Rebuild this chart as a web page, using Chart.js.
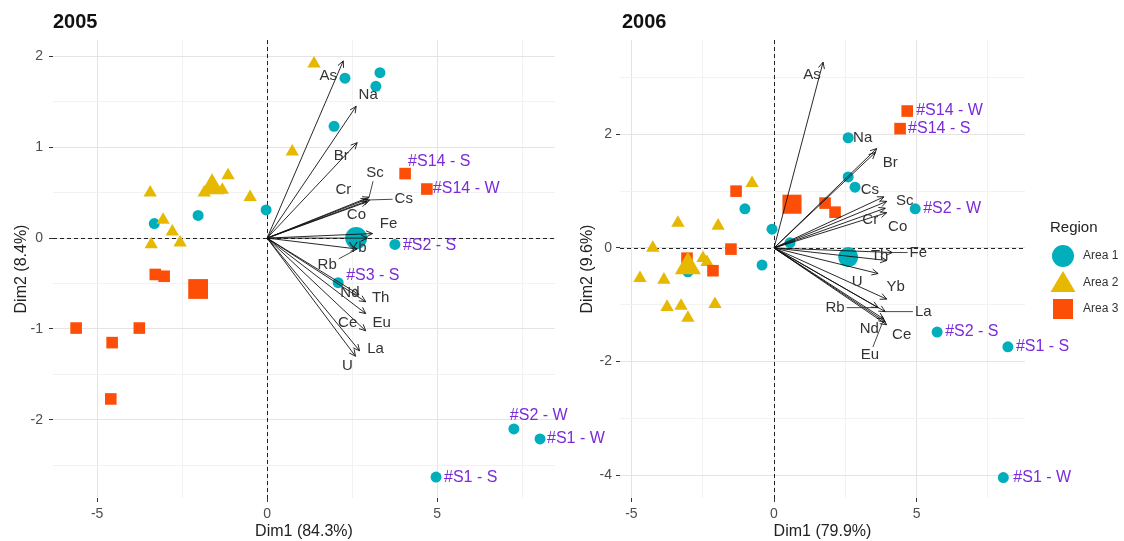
<!DOCTYPE html>
<html>
<head>
<meta charset="utf-8">
<script src="https://cdn.jsdelivr.net/npm/chart.js@4.4.1/dist/chart.umd.min.js"></script>
<style>
  html, body { margin: 0; padding: 0; background: #ffffff; }
  #wrap { position: relative; width: 1124px; height: 541px; overflow: hidden; }
  .panel { position: absolute; top: 0; height: 541px; }
  #p2005 { left: 0; width: 620px; }
  #p2006 { left: 560px; width: 564px; }
</style>
</head>
<body>
<div id="wrap">
  <div class="panel" id="p2005"><canvas id="c2005" width="620" height="541"></canvas></div>
  <div class="panel" id="p2006"><canvas id="c2006" width="564" height="541"></canvas></div>
</div>
<script>
// ---------------- data ----------------
const regions = ['Area 1', 'Area 2', 'Area 3'];
const regionColors = ['#00AFBB', '#E7B800', '#FC4E07'];

const panelTitles = ['2005', '2006'];
const dim1Titles = ['Dim1 (84.3%)', 'Dim1 (79.9%)'];
const dim2Titles = ['Dim2 (8.4%)', 'Dim2 (9.6%)'];

// tick labels shown on each axis
const dim1Ticks2005 = [-5, 0, 5];
const dim2Ticks2005 = [-2, -1, 0, 1, 2];
const dim1Ticks2006 = [-5, 0, 5];
const dim2Ticks2006 = [-4, -2, 0, 2];

// individuals 2005: [Dim1, Dim2, site]
const area1_2005 = [
  [2.29, 1.76, ''], [3.32, 1.82, ''], [3.20, 1.67, ''], [1.97, 1.23, ''],
  [-3.32, 0.16, ''], [-2.03, 0.25, ''], [-0.03, 0.31, ''],
  [3.76, -0.07, '#S2 - S'], [2.09, -0.49, '#S3 - S'],
  [7.26, -2.10, '#S2 - W'], [8.03, -2.21, '#S1 - W'], [4.97, -2.63, '#S1 - S']
];
const area2_2005 = [
  [1.38, 1.92, ''], [0.74, 0.95, ''], [-3.44, 0.50, ''], [-1.15, 0.69, ''],
  [-0.50, 0.45, ''], [-1.32, 0.53, ''], [-1.85, 0.50, ''], [-3.06, 0.20, ''],
  [-2.79, 0.07, ''], [-2.56, -0.05, ''], [-3.41, -0.07, '']
];
const area3_2005 = [
  [4.06, 0.71, '#S14 - S'], [4.70, 0.54, '#S14 - W'],
  [-3.29, -0.40, ''], [-3.03, -0.42, ''], [-5.62, -0.99, ''], [-3.76, -0.99, ''],
  [-4.56, -1.15, ''], [-4.60, -1.77, '']
];
// group means (Area 1, Area 2, Area 3)
const centroids2005 = [[2.62, 0.00], [-1.62, 0.56], [-2.03, -0.56]];

// variables 2005
const vars2005 = ['As', 'Na', 'Br', 'Sc', 'Cr', 'Cs', 'Co', 'Fe', 'Yb', 'Rb', 'Th', 'Nd', 'Eu', 'Ce', 'La', 'U'];
const varDim1_2005 = [2.24, 2.62, 2.65, 3.00, 2.95, 3.02, 2.95, 3.10, 2.95, 2.65, 2.90, 2.70, 2.90, 2.90, 2.72, 2.60];
const varDim2_2005 = [1.95, 1.45, 1.05, 0.45, 0.43, 0.42, 0.40, 0.05, 0.00, -0.12, -0.70, -0.62, -0.83, -1.02, -1.24, -1.30];

// individuals 2006: [Dim1, Dim2, site]
const area1_2006 = [
  [2.60, 1.94, ''], [2.60, 1.25, ''], [2.84, 1.07, ''], [4.95, 0.69, '#S2 - W'],
  [-1.02, 0.69, ''], [-0.07, 0.33, ''], [0.56, 0.09, ''], [-0.42, -0.30, ''],
  [-3.02, -0.42, ''], [5.72, -1.48, '#S2 - S'], [8.20, -1.74, '#S1 - S'], [8.04, -4.04, '#S1 - W']
];
const area2_2006 = [
  [-0.77, 1.14, ''], [-3.37, 0.44, ''], [-1.96, 0.39, ''], [-4.25, 0.00, ''],
  [-2.49, -0.18, ''], [-2.35, -0.25, ''], [-4.70, -0.53, ''], [-3.86, -0.56, ''],
  [-3.75, -1.04, ''], [-3.26, -1.02, ''], [-3.02, -1.23, ''], [-2.07, -0.99, '']
];
const area3_2006 = [
  [4.67, 2.41, '#S14 - W'], [4.42, 2.10, '#S14 - S'], [1.79, 0.79, ''], [2.14, 0.63, ''],
  [-1.33, 1.00, ''], [-1.51, -0.02, ''], [-3.05, -0.18, ''], [-2.14, -0.40, '']
];
const centroids2006 = [[2.60, -0.16], [-3.02, -0.33], [0.63, 0.77]];

// variables 2006
const vars2006 = ['As', 'Na', 'Br', 'Cs', 'Sc', 'Cr', 'Co', 'Fe', 'Th', 'U', 'Yb', 'La', 'Rb', 'Nd', 'Ce', 'Eu'];
const varDim1_2006 = [1.72, 3.60, 3.55, 3.85, 3.95, 3.90, 3.95, 4.15, 3.95, 3.65, 3.95, 3.90, 3.65, 3.90, 3.95, 3.85];
const varDim2_2006 = [3.27, 1.75, 1.68, 0.90, 0.82, 0.70, 0.62, -0.08, -0.22, -0.45, -0.90, -1.12, -1.05, -1.30, -1.35, -1.25];

// ---------------- layout of repelled labels (pixel offsets from arrow tip) ----------------
const varLabelLayout2005 = {
  As: [-15, 15], Na: [12, -11], Br: [-16, 13], Sc: [6, -24, true], Cr: [-24, -9],
  Cs: [34, -1, true], Co: [-11, 13], Fe: [16, -10], Yb: [-10, 10], Rb: [-30, 16, true],
  Th: [15, -4], Nd: [-9, -2], Eu: [16, 9], Ce: [-18, -8], La: [16, -2], U: [-8, 10]
};
const varLabelLayout2006 = {
  As: [-11, 13], Na: [-14, -11], Br: [15, 10], Cs: [-14, -7], Sc: [18, -1], Cr: [-15, 12],
  Co: [11, 14], Fe: [26, 0, true], Th: [-7, -5], U: [-21, 8], Yb: [9, -12], La: [38, 0, true],
  Rb: [-43, 0, true], Nd: [-16, 7], Ce: [15, 10], Eu: [-14, 36, true]
};
// site label offsets (left edge of text, from point centre)
const siteLabelLayout2005 = {
  '#S14 - S': [3, -12], '#S14 - W': [6, 0], '#S2 - S': [8, 1], '#S3 - S': [8, -7],
  '#S2 - W': [-4, -13], '#S1 - W': [7, 0], '#S1 - S': [8, 0]
};
const siteLabelLayout2006 = {
  '#S14 - W': [9, 0], '#S14 - S': [8, 0], '#S2 - W': [8, 0], '#S2 - S': [8, 0],
  '#S1 - S': [8, 0], '#S1 - W': [10, 0]
};

const FONT = '"Liberation Sans", Arial, Helvetica, sans-serif';
Chart.defaults.font.family = FONT;

function isNear(v, list) { return list.some(t => Math.abs(v - t) < 1e-6); }

function makeScales(opt) {
  const gridColor = (ticksList) => (c) => {
    const v = c.tick ? c.tick.value : 0;
    return isNear(v, ticksList) ? '#E4E4E4' : '#F2F2F2';
  };
  const tickColor = (ticksList) => (c) => {
    const v = c.tick ? c.tick.value : 0;
    return isNear(v, ticksList) ? '#333333' : 'rgba(0,0,0,0)';
  };
  const lbl = (ticksList) => function (value) {
    return isNear(value, ticksList) ? String(value) : '';
  };
  return {
    x: {
      type: 'linear', min: opt.xmin, max: opt.xmax,
      border: { display: false },
      grid: { color: gridColor(opt.xTicks), tickColor: tickColor(opt.xTicks), tickLength: 4, lineWidth: 1 },
      ticks: { stepSize: opt.xStep, includeBounds: false, autoSkip: false, maxRotation: 0,
               padding: 4, color: '#4D4D4D', font: { size: 14 }, callback: lbl(opt.xTicks) },
      title: { display: true, text: opt.xTitle, color: '#222', font: { size: 16 }, padding: { top: 0, bottom: 0 } },
      afterFit: (s) => { s.height = 43; }
    },
    y: {
      type: 'linear', min: opt.ymin, max: opt.ymax,
      border: { display: false },
      grid: { color: gridColor(opt.yTicks), tickColor: tickColor(opt.yTicks), tickLength: 4, lineWidth: 1 },
      ticks: { stepSize: opt.yStep, includeBounds: false, autoSkip: false,
               padding: opt.yPad, color: '#4D4D4D', font: { size: 14 }, callback: lbl(opt.yTicks) },
      title: { display: true, text: opt.yTitle, color: '#222', font: { size: 16 }, padding: { top: opt.yTitlePad, bottom: 0 } },
      afterFit: (s) => { s.width = opt.yWidth; }
    }
  };
}

function toXY(arr) { return arr.map(p => ({ x: p[0], y: p[1] })); }

function makeDatasets(a1, a2, a3, cents, big) {
  const base = { showLine: false, pointBorderWidth: 0, pointHoverRadius: 0 };
  return [
    Object.assign({ label: regions[0], data: toXY(a1), backgroundColor: regionColors[0],
      pointStyle: 'circle', pointRadius: 5.5, order: 4 }, base),
    Object.assign({ label: regions[1], data: toXY(a2), backgroundColor: regionColors[1],
      pointStyle: 'triangle', pointRadius: 7.7, order: 3 }, base),
    Object.assign({ label: regions[2], data: toXY(a3), backgroundColor: regionColors[2],
      pointStyle: 'rect', pointRadius: 8.2, order: 2 }, base),
    Object.assign({ label: 'mean', data: toXY(cents), backgroundColor: regionColors,
      pointStyle: ['circle', 'triangle', 'rect'], pointRadius: big, order: 1 }, base)
  ];
}

// dashed reference lines through the origin
const zeroLines = {
  id: 'zeroLines',
  beforeDatasetsDraw(chart) {
    const { ctx, chartArea: a, scales: { x, y } } = chart;
    const x0 = Math.round(x.getPixelForValue(0)) + 0.5;
    const y0 = Math.round(y.getPixelForValue(0)) + 0.5;
    ctx.save();
    ctx.strokeStyle = '#222';
    ctx.lineWidth = 1;
    ctx.setLineDash([4, 3]);
    ctx.beginPath();
    ctx.moveTo(x0, a.top); ctx.lineTo(x0, a.bottom);
    ctx.moveTo(a.left, y0); ctx.lineTo(a.right, y0);
    ctx.stroke();
    ctx.restore();
  }
};

function panelTitle(text, x) {
  return {
    id: 'panelTitle',
    afterDraw(chart) {
      const ctx = chart.ctx;
      ctx.save();
      ctx.font = 'bold 20px ' + FONT;
      ctx.fillStyle = '#111';
      ctx.textAlign = 'left';
      ctx.textBaseline = 'middle';
      ctx.fillText(text, x, 22);
      ctx.restore();
    }
  };
}

function variableArrows(names, d1, d2, layout) {
  return {
    id: 'variableArrows',
    afterDatasetsDraw(chart) {
      const { ctx, scales: { x, y } } = chart;
      const ox = x.getPixelForValue(0), oy = y.getPixelForValue(0);
      ctx.save();
      ctx.strokeStyle = '#111';
      ctx.lineWidth = 0.9;
      names.forEach((n, i) => {
        const tx = x.getPixelForValue(d1[i]), ty = y.getPixelForValue(d2[i]);
        const a = Math.atan2(ty - oy, tx - ox), h = 7, s = Math.PI / 7;
        ctx.beginPath();
        ctx.moveTo(ox, oy); ctx.lineTo(tx, ty);
        ctx.moveTo(tx - h * Math.cos(a - s), ty - h * Math.sin(a - s));
        ctx.lineTo(tx, ty);
        ctx.lineTo(tx - h * Math.cos(a + s), ty - h * Math.sin(a + s));
        ctx.stroke();
      });
      ctx.font = '15px ' + FONT;
      ctx.textAlign = 'center';
      ctx.textBaseline = 'middle';
      names.forEach((n, i) => {
        const tx = x.getPixelForValue(d1[i]), ty = y.getPixelForValue(d2[i]);
        const off = layout[n] || [8, 0];
        const cx = tx + off[0], cy = ty + off[1];
        if (off[2]) {
          const w = ctx.measureText(n).width / 2 + 2, hh = 8;
          const dx = tx - cx, dy = ty - cy;
          const t = Math.min(dx !== 0 ? w / Math.abs(dx) : Infinity, dy !== 0 ? hh / Math.abs(dy) : Infinity);
          if (t < 1) {
            ctx.strokeStyle = '#333';
            ctx.lineWidth = 0.9;
            ctx.beginPath();
            ctx.moveTo(cx + dx * t, cy + dy * t);
            ctx.lineTo(tx, ty);
            ctx.stroke();
          }
        }
        ctx.fillStyle = '#333';
        ctx.fillText(n, cx, cy);
      });
      ctx.restore();
    }
  };
}

function siteLabels(groups, layout) {
  return {
    id: 'siteLabels',
    afterDatasetsDraw(chart) {
      const { ctx, scales: { x, y } } = chart;
      ctx.save();
      ctx.font = '16px ' + FONT;
      ctx.fillStyle = '#7B2BD9';
      ctx.textAlign = 'left';
      ctx.textBaseline = 'middle';
      groups.forEach(g => g.forEach(p => {
        if (!p[2]) return;
        const off = layout[p[2]] || [8, 0];
        ctx.fillText(p[2], x.getPixelForValue(p[0]) + off[0], y.getPixelForValue(p[1]) + off[1]);
      }));
      ctx.restore();
    }
  };
}

// legend for the grouping variable, drawn in the right margin
const regionLegend = {
  id: 'regionLegend',
  afterDraw(chart) {
    const ctx = chart.ctx;
    const lx = chart.chartArea.right + 25;
    ctx.save();
    ctx.fillStyle = '#222';
    ctx.font = '15px ' + FONT;
    ctx.textAlign = 'left';
    ctx.textBaseline = 'middle';
    ctx.fillText('Region', lx, 228);
    const cx = lx + 13, rows = [256, 283, 309];
    // circle
    ctx.fillStyle = regionColors[0];
    ctx.beginPath(); ctx.arc(cx, rows[0], 11, 0, Math.PI * 2); ctx.fill();
    // triangle
    ctx.fillStyle = regionColors[1];
    ctx.beginPath();
    ctx.moveTo(cx, rows[1] - 12); ctx.lineTo(cx + 12.5, rows[1] + 9); ctx.lineTo(cx - 12.5, rows[1] + 9);
    ctx.closePath(); ctx.fill();
    // square
    ctx.fillStyle = regionColors[2];
    ctx.fillRect(cx - 10, rows[2] - 10, 20, 20);
    ctx.fillStyle = '#333';
    ctx.font = '12px ' + FONT;
    regions.forEach((r, i) => ctx.fillText(r, lx + 33, rows[i]));
    ctx.restore();
  }
};

const common = {
  responsive: false,
  animation: false,
  devicePixelRatio: 1,
  events: [],
  plugins: { legend: { display: false }, tooltip: { enabled: false }, title: { display: false } }
};

new Chart(document.getElementById('c2005'), {
  type: 'scatter',
  data: { datasets: makeDatasets(area1_2005, area2_2005, area3_2005, centroids2005, [11, 14, 14]) },
  options: Object.assign({}, common, {
    layout: { padding: { left: 0, top: 40, right: 65, bottom: 0 } },
    scales: makeScales({
      xmin: -6.3, xmax: 8.47, xStep: 2.5, xTicks: dim1Ticks2005, xTitle: dim1Titles[0],
      ymin: -2.86, ymax: 2.18, yStep: 0.5, yTicks: dim2Ticks2005, yTitle: dim2Titles[0],
      yWidth: 53, yPad: 6, yTitlePad: 12
    })
  }),
  plugins: [zeroLines, variableArrows(vars2005, varDim1_2005, varDim2_2005, varLabelLayout2005),
            siteLabels([area1_2005, area2_2005, area3_2005], siteLabelLayout2005), panelTitle(panelTitles[0], 53)]
});

new Chart(document.getElementById('c2006'), {
  type: 'scatter',
  data: { datasets: makeDatasets(area1_2006, area2_2006, area3_2006, centroids2006, [10, 15, 13.5]) },
  options: Object.assign({}, common, {
    layout: { padding: { left: 0, top: 40, right: 99, bottom: 0 } },
    scales: makeScales({
      xmin: -5.4, xmax: 8.8, xStep: 2.5, xTicks: dim1Ticks2006, xTitle: dim1Titles[1],
      ymin: -4.4, ymax: 3.66, yStep: 1, yTicks: dim2Ticks2006, yTitle: dim2Titles[1],
      yWidth: 60, yPad: 4, yTitlePad: 18
    })
  }),
  plugins: [zeroLines, variableArrows(vars2006, varDim1_2006, varDim2_2006, varLabelLayout2006),
            siteLabels([area1_2006, area2_2006, area3_2006], siteLabelLayout2006), panelTitle(panelTitles[1], 62),
            regionLegend]
});
</script>
</body>
</html>
